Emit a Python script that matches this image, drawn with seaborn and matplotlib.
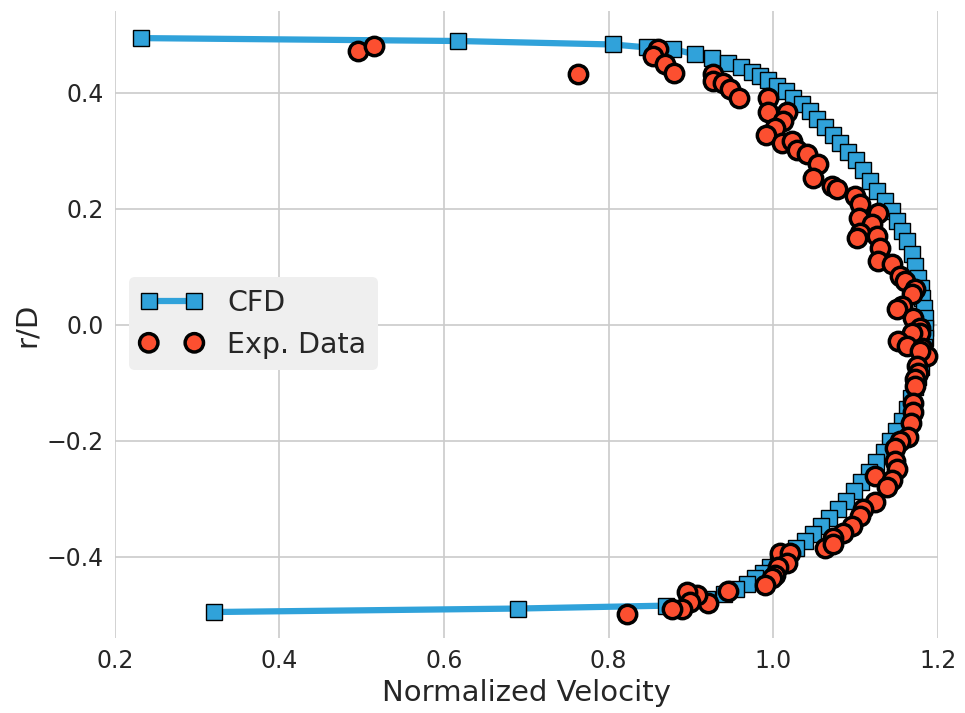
import numpy as np
import pandas as pd
import seaborn as sns
import matplotlib
matplotlib.use("Agg")
import matplotlib.pyplot as plt

# -----------------------
# Data
# -----------------------

cfd_vel = [
    0.232, 0.617, 0.805, 0.846, 0.878, 0.905, 0.925, 0.945, 0.961, 0.974,
    0.984, 0.993, 1.004, 1.015, 1.024, 1.035, 1.044, 1.053, 1.063, 1.072,
    1.081, 1.091, 1.100, 1.109, 1.117, 1.126, 1.136, 1.144, 1.150, 1.156,
    1.162, 1.168, 1.172, 1.176, 1.179, 1.181, 1.183, 1.184, 1.184, 1.184,
    1.183, 1.181, 1.179, 1.176, 1.172, 1.167, 1.162, 1.156, 1.149, 1.142,
    1.134, 1.125, 1.116, 1.107, 1.098, 1.088, 1.078, 1.068, 1.058, 1.048,
    1.038, 1.027, 1.016, 1.006, 0.996, 0.987, 0.978, 0.968, 0.955, 0.940,
    0.920, 0.895, 0.870, 0.690, 0.320,
]
cfd_r = [
    0.494, 0.489, 0.483, 0.478, 0.475, 0.466, 0.459, 0.451, 0.444, 0.435,
    0.428, 0.421, 0.411, 0.403, 0.391, 0.380, 0.368, 0.354, 0.341, 0.327,
    0.313, 0.298, 0.284, 0.267, 0.248, 0.231, 0.213, 0.196, 0.179, 0.162,
    0.145, 0.122, 0.102, 0.081, 0.064, 0.046, 0.029, 0.012, -0.005, -0.022,
    -0.038, -0.055, -0.072, -0.090, -0.108, -0.127, -0.146, -0.165, -0.183, -0.201,
    -0.219, -0.237, -0.254, -0.271, -0.287, -0.303, -0.318, -0.333, -0.347, -0.360,
    -0.373, -0.385, -0.396, -0.407, -0.417, -0.427, -0.437, -0.447, -0.456, -0.464,
    -0.472, -0.479, -0.484, -0.489, -0.495,
]

exp_vel = [
    0.496, 0.515, 0.763, 0.860, 0.854, 0.868, 0.879, 0.927, 0.927, 0.939,
    0.947, 0.958, 0.993, 0.993, 1.017, 1.012, 1.002, 0.991, 1.010, 1.023,
    1.029, 1.041, 1.054, 1.048, 1.071, 1.077, 1.099, 1.105, 1.127, 1.104,
    1.120, 1.105, 1.102, 1.126, 1.130, 1.127, 1.144, 1.154, 1.160, 1.172,
    1.168, 1.156, 1.150, 1.170, 1.178, 1.178, 1.168, 1.151, 1.162, 1.181,
    1.187, 1.178, 1.175, 1.176, 1.172, 1.172, 1.170, 1.170, 1.167, 1.164,
    1.154, 1.148, 1.148, 1.150, 1.123, 1.144, 1.138, 1.123, 1.109, 1.105,
    1.096, 1.085, 1.072, 1.063, 1.072, 1.008, 1.020, 1.017, 1.006, 1.002,
    0.998, 0.990, 0.945, 0.921, 0.907, 0.895, 0.899, 0.889, 0.877, 0.822,
]
exp_r = [
    0.471, 0.480, 0.432, 0.475, 0.463, 0.449, 0.434, 0.432, 0.420, 0.416,
    0.406, 0.391, 0.391, 0.366, 0.366, 0.351, 0.339, 0.327, 0.313, 0.317,
    0.301, 0.294, 0.277, 0.253, 0.239, 0.234, 0.222, 0.208, 0.193, 0.184,
    0.174, 0.158, 0.150, 0.153, 0.132, 0.110, 0.105, 0.084, 0.076, 0.062,
    0.053, 0.033, 0.028, 0.012, -0.005, -0.014, -0.015, -0.028, -0.036, -0.040,
    -0.053, -0.045, -0.071, -0.083, -0.093, -0.105, -0.134, -0.151, -0.169, -0.194,
    -0.200, -0.212, -0.234, -0.248, -0.260, -0.268, -0.280, -0.306, -0.317, -0.329,
    -0.346, -0.358, -0.368, -0.385, -0.377, -0.394, -0.394, -0.411, -0.418, -0.432,
    -0.437, -0.449, -0.458, -0.480, -0.466, -0.461, -0.478, -0.489, -0.489, -0.499,
]

cfd = pd.DataFrame({"vel": cfd_vel, "r": cfd_r})
exp = pd.DataFrame({"vel": exp_vel, "r": exp_r})

BLUE = "#30a2da"
RED = "#fc4f30"

# -----------------------
# Plot
# -----------------------

sns.set_theme(style="whitegrid", rc={"grid.color": "#cbcbcb", "grid.linewidth": 1.2})
plt.rcParams["font.family"] = ["DejaVu Sans"]

fig = plt.figure(figsize=(9.65, 7.13), dpi=100)
ax = fig.add_axes([0.119, 0.105, 0.853, 0.879])

sns.lineplot(
    data=cfd, x="vel", y="r", sort=False, estimator=None,
    color=BLUE, linewidth=4.5, marker="s", markersize=12,
    markeredgecolor="black", markeredgewidth=1, label="CFD", ax=ax,
)
sns.scatterplot(
    data=exp, x="vel", y="r", color=RED, s=175,
    edgecolor="black", linewidth=2.5, label="Exp. Data", zorder=3, ax=ax,
)

ax.set_xlim(0.2, 1.2)
ax.set_ylim(-0.54, 0.54)
ax.set_xticks([0.2, 0.4, 0.6, 0.8, 1.0, 1.2])
ax.set_yticks([-0.4, -0.2, 0.0, 0.2, 0.4])
ax.set_xlabel("Normalized Velocity", fontsize=21)
ax.set_ylabel("r/D", fontsize=21)
ax.tick_params(labelsize=17, length=0, pad=8)
for s in ax.spines.values():
    s.set_visible(False)

leg = ax.legend(
    loc="upper left", bbox_to_anchor=(0.017, 0.576), borderaxespad=0,
    fontsize=20.5, numpoints=2, scatterpoints=2, scatteryoffsets=[0.5],
    handlelength=2.2, handletextpad=0.85,
    frameon=True, fancybox=True,
    facecolor="#efefef", edgecolor="none", framealpha=1,
)

plt.savefig("out.png", dpi=100)
